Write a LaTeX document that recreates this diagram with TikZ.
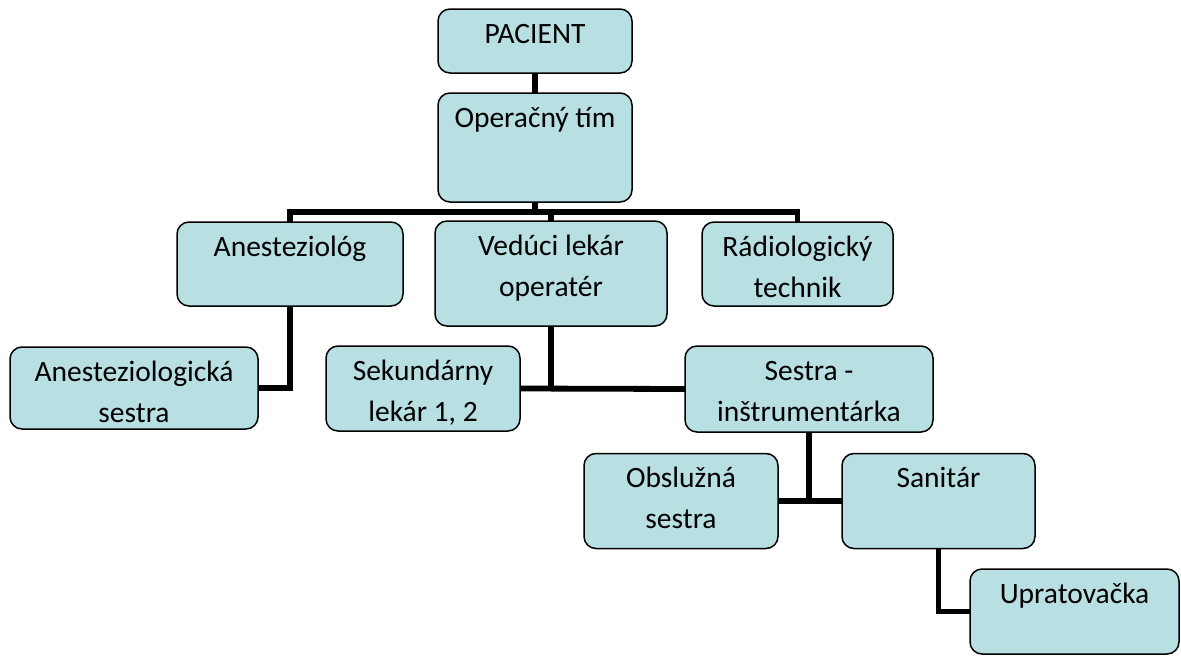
\documentclass[tikz,border=0pt]{standalone}
\usepackage{fontspec}
\setmainfont{Carlito}
\definecolor{boxfill}{RGB}{184,223,226}
% box text: top aligned, first baseline 34pt below the top edge
\newcommand\boxtext[3]{\parbox[c][#2][t]{#1}{\centering\rule{0pt}{34pt}#3}}
\begin{document}
\begin{tikzpicture}[x=1pt,y=-1pt,
  orgbox/.style={draw=black, line width=1.5pt, fill=boxfill, rounded corners=12pt,
    inner sep=0pt, outer sep=0pt, font=\fontsize{29.5}{41}\selectfont},
  link/.style={draw=black, line width=5.8pt}]
\useasboundingbox (0,0) rectangle (1181,656);

% nodes (centre, width, height)
\node[orgbox] (pacient) at (535,41)    {\boxtext{194pt}{64pt}{PACIENT}};
\node[orgbox] (tim)     at (535,147.5) {\boxtext{194pt}{109pt}{Operačný tím}};
\node[orgbox] (anest)   at (290,264)   {\boxtext{226pt}{84pt}{Anesteziológ}};
\node[orgbox] (veduci)  at (551,273.5) {\boxtext{232pt}{105pt}{Vedúci lekár\\operatér}};
\node[orgbox] (radio)   at (797.5,264) {\boxtext{191pt}{84pt}{Rádiologický\\technik}};
\node[orgbox] (anses)   at (134,388)   {\boxtext{248pt}{82pt}{Anesteziologická\\sestra}};
\node[orgbox] (sekund)  at (423,388.5) {\boxtext{194pt}{85pt}{Sekundárny\\lekár 1, 2}};
\node[orgbox] (sestra)  at (809,389)   {\boxtext{248pt}{86pt}{Sestra -\\inštrumentárka}};
\node[orgbox] (obsl)    at (681,501)   {\boxtext{194pt}{95pt}{Obslužná\\sestra}};
\node[orgbox] (sanit)   at (938.5,501) {\boxtext{193pt}{95pt}{Sanitár}};
\node[orgbox] (uprat)   at (1074.5,611.5) {\boxtext{209pt}{85pt}{Upratovačka}};

% bus below the team box
\coordinate (bus) at (535,212);

% connectors
\draw[link] (pacient.south) -- (tim.north);
\draw[link] (tim.south) -- (bus);
\draw[link] (anest.north) |- (bus) -| (radio.north);
\draw[link] (veduci.north) -- (veduci.north |- bus);
\draw[link] (anest.south) |- (anses.east);
\draw[link] (sekund.east) -- (sestra.west);
\draw[link] (veduci.south) -- (veduci.south |- sekund.east);
\draw[link] (obsl.east) -- (sanit.west);
\draw[link] (sestra.south) -- (sestra.south |- obsl.east);
\draw[link] (sanit.south) |- (uprat.west);
\end{tikzpicture}
\end{document}
